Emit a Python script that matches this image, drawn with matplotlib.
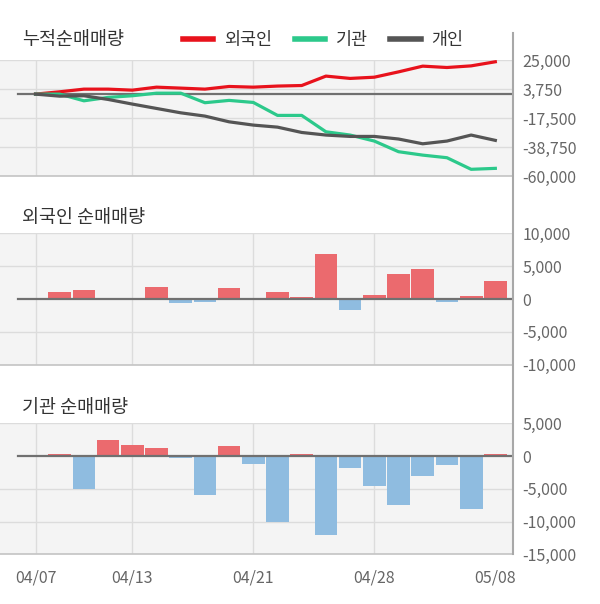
import matplotlib
matplotlib.use("Agg")
import matplotlib.pyplot as plt
from matplotlib.lines import Line2D

plt.rcParams['font.family'] = ['Noto Sans CJK KR', 'DejaVu Sans']

dates = ['04/07', '04/08', '04/09', '04/10', '04/13', '04/14', '04/16', '04/17', '04/20', '04/21',
         '04/22', '04/23', '04/24', '04/27', '04/28', '04/29', '05/04', '05/06', '05/07', '05/08']
tick_labels = ['04/07', '04/13', '04/21', '04/28', '05/08']
grid_labels = ['04/07', '04/13', '04/21', '04/28']

cum_foreign = [0, 1700, 3650, 3650, 2900, 5100, 4400, 3650, 5600, 5100,
               5900, 6300, 13200, 11500, 12400, 16300, 20500, 19500, 20700, 23700]
cum_inst = [0, 0, -4900, -2400, -1200, 700, 700, -6300, -4600, -6100,
            -15600, -15600, -27600, -30000, -34400, -42200, -44700, -46600, -55100, -54400]
cum_indiv = [0, -1500, -1200, -3900, -7300, -10500, -13700, -16100, -20300, -22700,
             -24200, -28100, -30000, -31000, -31000, -32900, -36400, -34400, -30000, -33900]

foreign_net = [0, 1100, 1400, 0, 0, 1900, -650, -500, 1700, -200,
               1000, 250, 6900, -1700, 650, 3850, 4600, -450, 500, 2700]
inst_net = [0, 250, -5000, 2400, 1650, 1200, -300, -6000, 1500, -1200,
            -10000, 250, -12000, -1850, -4600, -7400, -3050, -1400, -8150, 250]

top_ticks = [25000, 3750, -17500, -38750, -60000]
mid_ticks = [10000, 5000, 0, -5000, -10000]
bot_ticks = [5000, 0, -5000, -10000, -15000]

series_names = ['외국인', '기관', '개인']
titles = ['누적순매매량', '외국인 순매매량', '기관 순매매량']

RED = '#e8121c'
GREEN = '#2cc98b'
GREY = '#555555'
BAR_RED = '#eb6a6e'
BAR_BLUE = '#8fbce0'
BG = '#f4f4f4'
GRID = '#dcdcdc'
TICK = '#666666'
TITLE = '#333333'

W, H = 600, 604
fig = plt.figure(figsize=(W / 100, H / 100), dpi=100)


def px_axes(top, bottom):
    return fig.add_axes([0, 1 - bottom / H, 513 / W, (bottom - top) / H])


ax1 = px_axes(60, 176)
ax2 = px_axes(233.3, 364.7)
ax3 = px_axes(423.3, 554.3)

x = list(range(len(dates)))
xlim = (-1.467, 19.73)
grid_pos = [dates.index(d) for d in grid_labels]


def style(ax, ticks):
    ax.set_facecolor(BG)
    ax.set_xlim(*xlim)
    ax.set_ylim(min(ticks), max(ticks))
    ax.yaxis.tick_right()
    ax.set_yticks(ticks)
    ax.set_yticklabels([f"{t:,.0f}" for t in ticks])
    ax.tick_params(axis='y', length=0, pad=7, labelsize=11.5, labelcolor=TICK)
    for t in ticks:
        if t != 0:
            ax.axhline(t, color=GRID, lw=1, zorder=0.5)
    for g in grid_pos:
        ax.axvline(g, color=GRID, lw=1, zorder=0.5)
    for s in ['top', 'left', 'right']:
        ax.spines[s].set_visible(False)
    ax.spines['bottom'].set_color('#c4c4c4')
    ax.spines['bottom'].set_linewidth(1.2)
    ax.axhline(0, xmin=18 / 513, xmax=1, color='#707070', lw=1.6, zorder=3)


style(ax1, top_ticks)
style(ax2, mid_ticks)
style(ax3, bot_ticks)

l1, = ax1.plot(x, cum_foreign, color=RED, lw=2.3, zorder=4)
l2, = ax1.plot(x, cum_inst, color=GREEN, lw=2.3, zorder=4)
l3, = ax1.plot(x, cum_indiv, color=GREY, lw=2.3, zorder=4)

for ax, vals in [(ax2, foreign_net), (ax3, inst_net)]:
    cols = [BAR_RED if v >= 0 else BAR_BLUE for v in vals]
    ax.bar(x, vals, width=0.94, color=cols, zorder=2)

for ax in (ax1, ax2):
    ax.set_xticks([])
ax3.set_xticks([dates.index(d) for d in tick_labels])
ax3.set_xticklabels(tick_labels)
ax3.tick_params(axis='x', length=0, pad=11, labelsize=11.5, labelcolor=TICK)

for title, ypx in zip(titles, [40, 218, 408]):
    fig.text(22 / W, 1 - ypx / H, title, fontsize=13.3, color=TITLE, va='center', ha='left')

leg = fig.legend([l1, l2, l3], series_names, loc='center left',
                 bbox_to_anchor=(183 / W, 1 - 40 / H), ncol=3, frameon=False,
                 fontsize=12.5, handlelength=1.75, handletextpad=0.62,
                 columnspacing=1.3, borderpad=0, borderaxespad=0)
for h in leg.legend_handles:
    h.set_linewidth(4)
for t in leg.get_texts():
    t.set_color(TITLE)

fig.add_artist(Line2D([513 / W, 513 / W], [1 - 33 / H, 1 - 554.3 / H],
                      color='#a8a8a8', lw=1.5, transform=fig.transFigure))

fig.savefig('out.png', dpi=100)
